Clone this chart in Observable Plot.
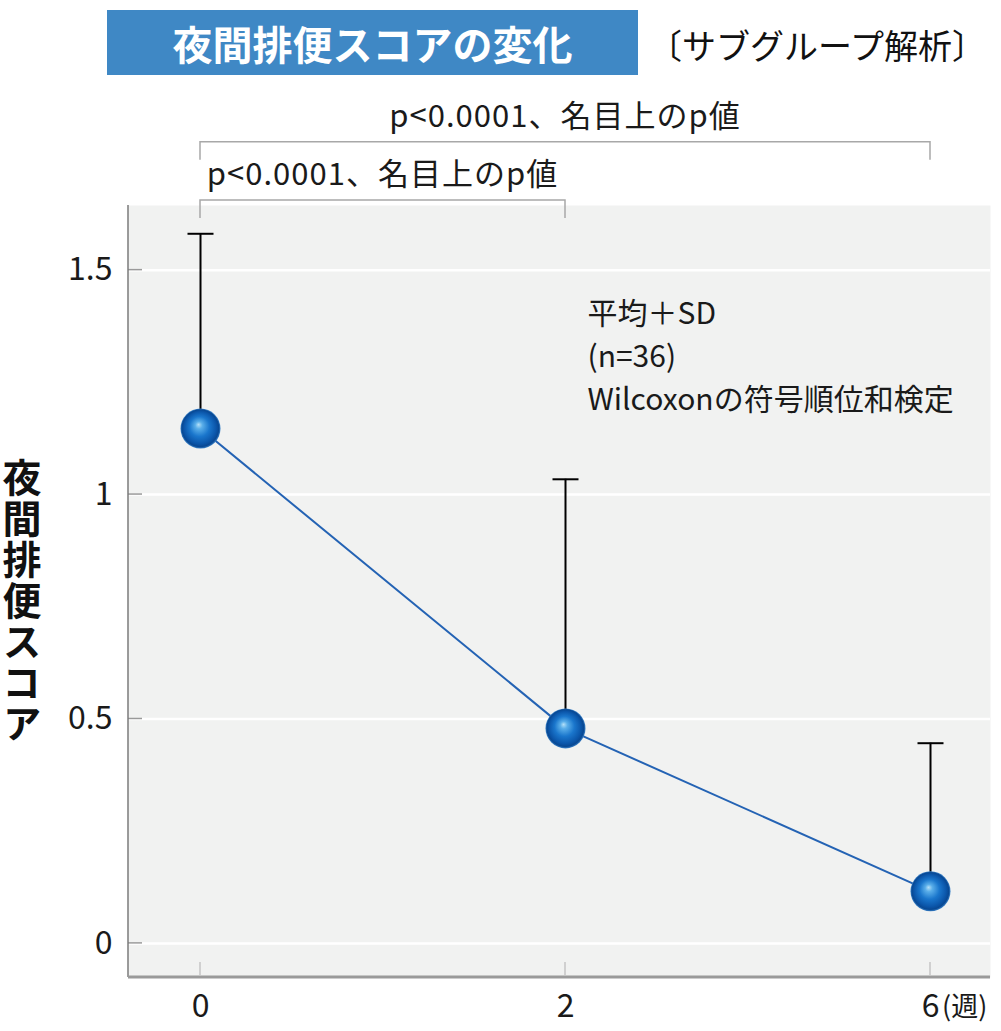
<!DOCTYPE html>
<html><head><meta charset="utf-8">
<script src="https://cdn.jsdelivr.net/npm/d3@7"></script>
<script src="https://cdn.jsdelivr.net/npm/@observablehq/plot@0.6"></script>
<style>
body{margin:0;background:#fff;font-family:"Noto Sans CJK JP","Noto Sans",sans-serif;}
#wrap{position:relative;width:1001px;}
#head{position:relative;height:85px;width:1001px;}
#title{position:absolute;left:107px;top:10px;width:531px;height:65px;background:#3f88c5;color:#fff;font-weight:bold;font-size:40px;display:flex;align-items:center;justify-content:center;line-height:1;}
#sub{position:absolute;left:648px;top:28px;font-size:34px;line-height:1;color:#111;white-space:nowrap;}
#ylabel{position:absolute;left:2px;top:458px;width:40px;font-size:39px;font-weight:bold;line-height:40px;letter-spacing:2px;color:#111;writing-mode:vertical-rl;text-orientation:upright;}
#chart{width:1001px;}
</style></head>
<body>
<div id="wrap">
<div id="head"><div id="title"></div><div id="sub"></div></div>
<div id="ylabel"></div>
<div id="chart"></div>
</div>
<script>
const titleText = "夜間排便スコアの変化";
const subtitleText = "〔サブグループ解析〕";
const yLabel = "夜間排便スコア";
const weeks = ["0", "2", "6"];
const meanScore = [1.147, 0.479, 0.116];
const sdScore = [0.434, 0.555, 0.330];
const yTicks = [0, 0.5, 1, 1.5];
const xUnit = "(週)";
const noteLines = ["平均＋SD", "(n=36)", "Wilcoxonの符号順位和検定"];
const bracketFrom = ["0", "0"];
const bracketTo = ["6", "2"];
const bracketLabel = ["p<0.0001、名目上のp値", "p<0.0001、名目上のp値"];
const bracketLevel = [1.785, 1.655];

document.getElementById("title").textContent = titleText;
document.getElementById("sub").textContent = subtitleText;
document.getElementById("ylabel").textContent = yLabel;

const data = weeks.map((w, i) => ({week: w, mean: meanScore[i], top: meanScore[i] + sdScore[i]}));

const svgNS = "http://www.w3.org/2000/svg";
function el(tag, attrs) {
  const e = document.createElementNS(svgNS, tag);
  for (const k in attrs) e.setAttribute(k, attrs[k]);
  return e;
}

const defsMark = () => {
  const g = el("g", {});
  const defs = el("defs", {});
  const grad = el("radialGradient", {id: "sphere", cx: "50%", cy: "50%", r: "50%", fx: "45%", fy: "40%"});
  [["0%", "#b4e0f8"], ["18%", "#5aaee9"], ["50%", "#1a76cc"], ["80%", "#0b56aa"], ["92%", "#084893"], ["100%", "#3a82c8"]]
    .forEach(([o, c]) => grad.append(el("stop", {offset: o, "stop-color": c})));
  defs.append(grad);
  g.append(defs);
  return g;
};

const axesMark = (index, {x, y}, values, dims) => {
  const {width, height, marginLeft, marginRight, marginTop, marginBottom} = dims;
  const left = marginLeft, right = width - marginRight, top = marginTop, bottom = height - marginBottom;
  const g = el("g", {});
  for (const t of yTicks) g.append(el("line", {x1: left, x2: left + 14, y1: y(t), y2: y(t), stroke: "#9a9a9a", "stroke-width": 1.5}));
  for (const w of weeks) g.append(el("line", {x1: x(w), x2: x(w), y1: bottom - 15, y2: bottom - 2, stroke: "#c4c4c4", "stroke-width": 1.5}));
  g.append(el("line", {x1: left, x2: left, y1: top, y2: bottom, stroke: "#7a7a7a", "stroke-width": 1.5}));
  g.append(el("line", {x1: left, x2: right, y1: bottom, y2: bottom, stroke: "#9a9a9a", "stroke-width": 3}));
  const t = el("text", {x: x(weeks[weeks.length - 1]) + 12, y: bottom + 39, "font-size": 27, fill: "#1a1a1a", "text-anchor": "start"});
  t.textContent = xUnit;
  g.append(t);
  return g;
};

const bracketMark = (index, {x, y}) => {
  const g = el("g", {});
  bracketLevel.forEach((lv, i) => {
    const x1 = x(bracketFrom[i]), x2 = x(bracketTo[i]), yy = y(lv), drop = 18;
    g.append(el("path", {d: `M${x1},${yy + drop}V${yy}H${x2}V${yy + drop}`, fill: "none", stroke: "#a8a8a8", "stroke-width": 1.5}));
    const t = el("text", {x: (x1 + x2) / 2, y: yy - 15, "text-anchor": "middle", "font-size": 31, "letter-spacing": 1, fill: "#1a1a1a"});
    t.textContent = bracketLabel[i];
    g.append(t);
  });
  return g;
};

const capSymbol = {draw(ctx, size) { const w = Math.sqrt(size / Math.PI); ctx.moveTo(-w, 0); ctx.lineTo(w, 0); }};

const chart = Plot.plot({
  width: 1001, height: 946,
  marginTop: 120, marginBottom: 54, marginLeft: 128, marginRight: 11,
  x: {type: "point", domain: weeks, range: [200, 930], padding: 0},
  y: {domain: [-0.076, 1.644]},
  style: {fontFamily: '"Noto Sans CJK JP","Noto Sans",sans-serif', fontSize: "30px", color: "#1a1a1a", background: "transparent", overflow: "visible"},
  marks: [
    defsMark,
    Plot.frame({fill: "#f1f2f1", stroke: null}),
    Plot.gridY(yTicks, {stroke: "#fff", strokeOpacity: 1, strokeWidth: 2.5}),
    Plot.axisY(yTicks, {tickSize: 0, tickPadding: 16, fontSize: 32, label: null, tickFormat: d => String(d)}),
    Plot.axisX(weeks, {tickSize: 0, tickPadding: 17, fontSize: 32, label: null}),
    axesMark,
    bracketMark,
    Plot.ruleX(data, {x: "week", y1: "mean", y2: "top", stroke: "#000", strokeWidth: 2}),
    Plot.dot(data, {x: "week", y: "top", r: 13, symbol: capSymbol, stroke: "#000", strokeWidth: 2, fill: "none"}),
    Plot.line(data, {x: "week", y: "mean", stroke: "#2463b4", strokeWidth: 2}),
    Plot.dot(data, {x: "week", y: "mean", r: 20, fill: "url(#sphere)", stroke: null}),
    Plot.text([noteLines.join("\n")], {x: ["2"], y: [1.447], dx: 22, textAnchor: "start", lineAnchor: "top", fontSize: 30, lineHeight: 1.43, fill: "#1a1a1a"})
  ]
});
document.getElementById("chart").append(chart);
</script>
</body></html>
